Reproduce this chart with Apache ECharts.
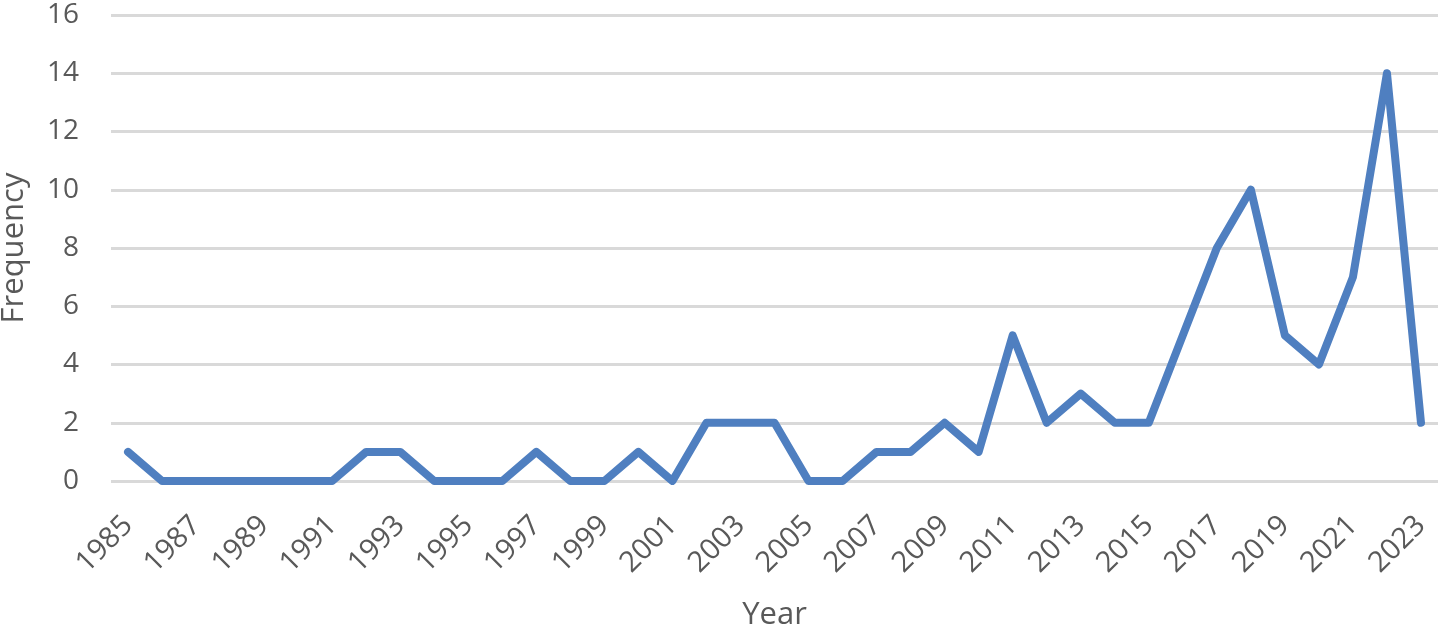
<!DOCTYPE html>
<html><head><meta charset="utf-8">
<script src="https://cdn.jsdelivr.net/npm/echarts@6/dist/echarts.min.js"></script>
<style>html,body{margin:0;padding:0;background:#fff}#c{width:1442px;height:629px}</style>
</head><body><div id="c"></div>
<script>
const years = ["1985","1986","1987","1988","1989","1990","1991","1992","1993","1994","1995","1996","1997","1998","1999","2000","2001","2002","2003","2004","2005","2006","2007","2008","2009","2010","2011","2012","2013","2014","2015","2016","2017","2018","2019","2020","2021","2022","2023"];
const frequency = [1,0,0,0,0,0,0,1,1,0,0,0,1,0,0,1,0,2,2,2,0,0,1,1,2,1,5,2,3,2,2,5,8,10,5,4,7,14,2];
const yTicks = {min:0, max:16, interval:2};
const chart = echarts.init(document.getElementById('c'));
const font = '"Open Sans", "Liberation Sans", sans-serif';
chart.setOption({
  animation:false,
  grid:{left:111, right:4, top:15, bottom:148, outerBoundsMode:'none', containLabel:false},
  xAxis:{
    type:'category', data:years, boundaryGap:true,
    name:'Year', nameLocation:'middle', nameGap:119,
    nameTextStyle:{color:'#595959', fontSize:31, fontFamily:font},
    axisLine:{show:false}, axisTick:{show:false},
    axisLabel:{interval:1, rotate:45, color:'#595959', fontSize:29, fontFamily:font, margin:40}
  },
  yAxis:{
    type:'value', min:yTicks.min, max:yTicks.max, interval:yTicks.interval,
    name:'Frequency', nameLocation:'middle', nameGap:81,
    nameTextStyle:{color:'#595959', fontSize:31, fontFamily:font},
    axisLine:{show:false}, axisTick:{show:false},
    axisLabel:{color:'#595959', fontSize:28, fontFamily:font, margin:32},
    splitLine:{lineStyle:{color:'#d9d9d9', width:3}}
  },
  series:[{
    type:'line', data:frequency, symbol:'none',
    lineStyle:{color:'#4f7fc0', width:8, cap:'round', join:'round'}
  }]
});
</script></body></html>
